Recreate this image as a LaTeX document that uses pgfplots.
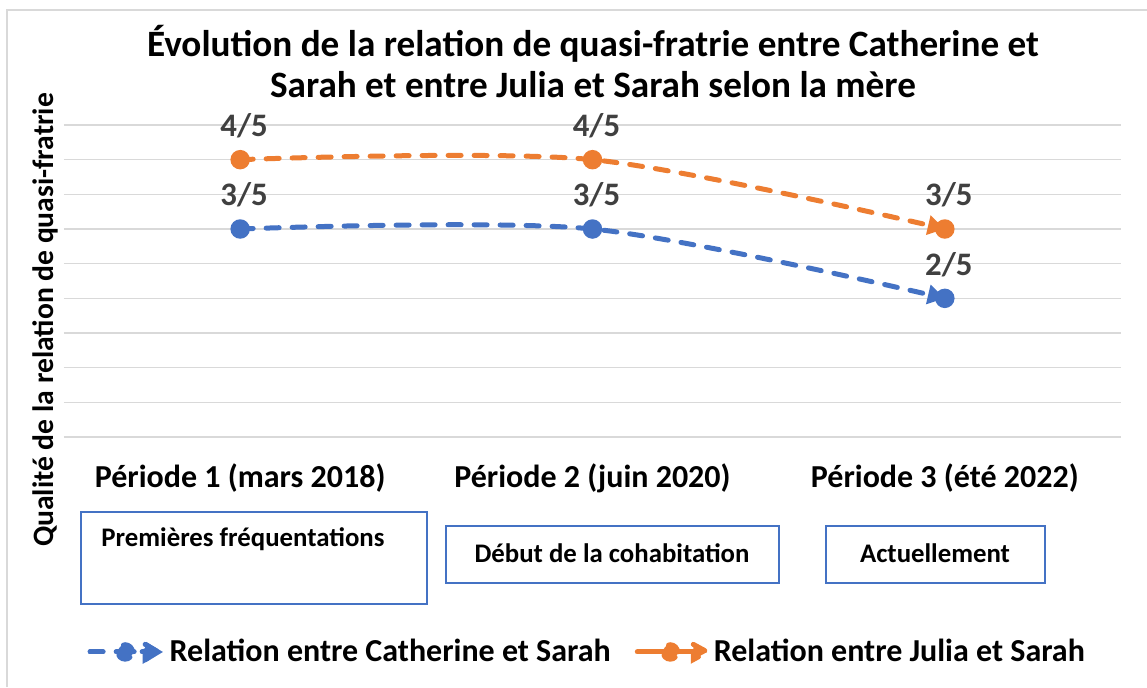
\documentclass[border=0pt]{standalone}
\usepackage{fontspec}
\setmainfont{Carlito}
\usepackage{pgfplots}
\pgfplotsset{compat=1.18}
\usetikzlibrary{arrows.meta}
\definecolor{cblue}{HTML}{4472C4}
\definecolor{corange}{HTML}{ED7D31}
\definecolor{lab}{HTML}{404040}
\definecolor{gridc}{HTML}{D9D9D9}
\begin{document}
\begin{tikzpicture}
% 1 px of the reference = 0.5pt
\useasboundingbox (0pt,0pt) rectangle (573.5pt,343.5pt);
\draw[gridc, line width=0.75pt] (3.5pt,0pt) -- (3.5pt,338.5pt) -- (573.5pt,338.5pt);
\node[font=\bfseries\fontsize{18.6}{20.5}\selectfont, align=center] at (296.5pt,312.75pt)
  {Évolution de la relation de quasi-fratrie entre Catherine et\\Sarah et entre Julia et Sarah selon la mère};
\node[rotate=90, font=\bfseries\fontsize{14.8}{17}\selectfont] at (22.5pt,183.5pt)
  {Qualité de la relation de quasi-fratrie};
\begin{axis}[
  at={(32pt,125pt)}, anchor=south west, scale only axis,
  width=528.5pt, height=156pt,
  xmin=-0.5, xmax=2.5, ymin=0, ymax=4.5,
  xtick={0,1,2},
  xticklabels={Période 1 (mars 2018), Période 2 (juin 2020), Période 3 (été 2022)},
  ytick={0,0.5,1,1.5,2,2.5,3,3.5,4,4.5}, yticklabels={},
  ymajorgrids, grid style={gridc, line width=0.75pt},
  axis line style={draw=none},
  major tick length=0pt,
  xticklabel style={font=\bfseries\fontsize{16}{19}\selectfont, anchor=center, yshift=-20.5pt},
  clip=false,
  legend columns=2,
  legend cell align=left,
  legend style={draw=none, fill=none, at={(0.496,-0.689)}, anchor=center,
    font=\bfseries\fontsize{16}{19}\selectfont,
    /tikz/every even column/.append style={column sep=10pt}},
  nodes near coords,
  point meta=explicit symbolic,
  nodes near coords style={font=\bfseries\fontsize{16.4}{19}\selectfont, text=lab,
    anchor=center, yshift=17pt, xshift=2pt},
]
\addplot[cblue, line width=2.5pt, dash pattern=on 6.5pt off 6.5pt, line cap=round,
  smooth, mark=*, mark size=3.6pt, mark options={solid},
  -{Triangle[length=8.5pt,width=9.5pt]},
  legend image code/.code={
    \draw[cblue, line width=2.5pt, line cap=round, solid, -] (0pt,0pt) -- (6pt,0pt);
    \draw[cblue, line width=2.5pt, solid, -] (14pt,0pt) -- (22pt,0pt);
    \fill[cblue] (17.5pt,0pt) circle (3.6pt);
    \fill[cblue] (27.5pt,3.8pt) -- (34pt,0pt) -- (27.5pt,-3.8pt) -- cycle;
    \path (0pt,0pt) -- (36.5pt,0pt);
  }]
  coordinates {(0,3) [3/5] (1,3) [3/5] (2,2) [2/5]};
\addlegendentry{Relation entre Catherine et Sarah}
\addplot[corange, line width=2.5pt, dash pattern=on 6.5pt off 6.5pt, line cap=round,
  smooth, mark=*, mark size=3.6pt, mark options={solid},
  -{Triangle[length=8.5pt,width=9.5pt]},
  legend image code/.code={
    \draw[corange, line width=2.5pt, solid, -] (0pt,0pt) -- (29pt,0pt);
    \fill[corange] (16.5pt,0pt) circle (3.6pt);
    \fill[corange] (28pt,3.8pt) -- (35pt,0pt) -- (28pt,-3.8pt) -- cycle;
  }]
  coordinates {(0,4) [4/5] (1,4) [4/5] (2,3) [3/5]};
\addlegendentry{Relation entre Julia et Sarah}
\end{axis}
\draw[cblue, line width=0.8pt] (40.5pt,41.5pt) rectangle (213.5pt,87.5pt);
\node[font=\bfseries\fontsize{13.4}{16}\selectfont] at (121.5pt,74pt) {Premières fréquentations};
\draw[cblue, line width=0.8pt] (223pt,52pt) rectangle (389.5pt,80.5pt);
\node[font=\bfseries\fontsize{13.4}{16}\selectfont] at (306pt,67pt) {Début de la cohabitation};
\draw[cblue, line width=0.8pt] (413pt,52pt) rectangle (522.5pt,80.5pt);
\node[font=\bfseries\fontsize{13.4}{16}\selectfont] at (467.5pt,67pt) {Actuellement};
\end{tikzpicture}
\end{document}
